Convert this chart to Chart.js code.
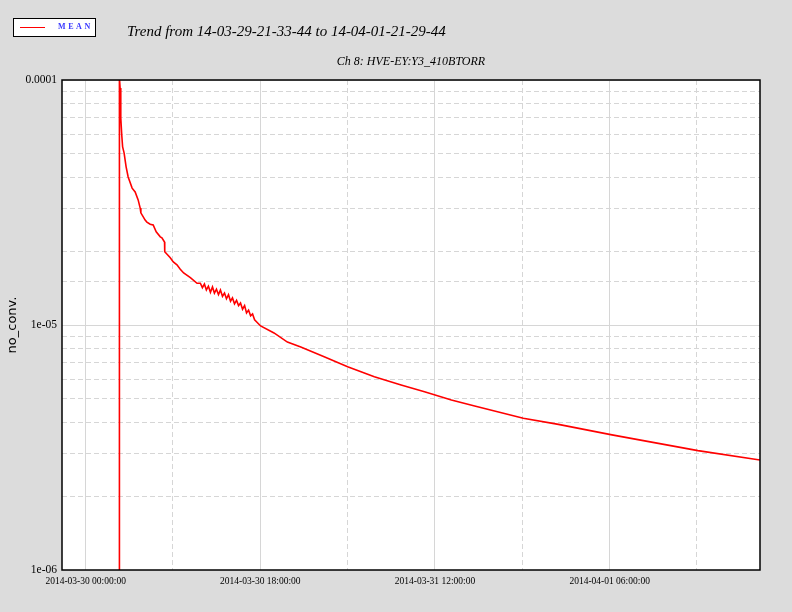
<!DOCTYPE html>
<html>
<head>
<meta charset="utf-8">
<script src="https://cdn.jsdelivr.net/npm/chart.js@4/dist/chart.umd.min.js"></script>
<style>
html,body{margin:0;padding:0;background:#dcdcdc;}
#wrap{position:relative;width:792px;height:612px;overflow:hidden;background:#dcdcdc;}
#c{position:absolute;left:0;top:0;}
#legend{position:absolute;left:13px;top:18px;width:81px;height:17px;border:1px solid #000;background:#fff;}
#legline{position:absolute;left:6px;top:8px;width:25px;height:0;border-top:1px solid #ff0000;}
#legtxt{position:absolute;left:44px;top:3px;font:bold 8px "Liberation Serif",serif;letter-spacing:2.6px;color:#3a3aff;line-height:10px;}
#title{position:absolute;left:127px;top:24px;font:italic 15px "Liberation Serif",serif;line-height:15px;color:#000;white-space:nowrap;}
#subtitle{position:absolute;left:211px;width:400px;text-align:center;top:55px;font:italic 12px "Liberation Serif",serif;line-height:12px;color:#000;white-space:nowrap;}
</style>
</head>
<body>
<div id="wrap">
<canvas id="c" width="792" height="612"></canvas>
<div id="legend"><div id="legline"></div><div id="legtxt">MEAN</div></div>
<div id="title">Trend from 14-03-29-21-33-44 to 14-04-01-21-29-44</div>
<div id="subtitle">Ch 8: HVE-EY:Y3_410BTORR</div>
</div>
<script>
// ---- data (hours since 2014-03-30 00:00:00, pressure values) ----
const seriesName = 'MEAN';
const yAxisTitle = 'no_conv.';
const startHours = -2.4378;   // 2014-03-29 21:33:44
const endHours = 69.4956;     // 2014-04-01 21:29:44
const timesH = [
  3.48, 3.48, 3.55, 3.62, 3.72, 3.81, 3.96, 4.17, 4.38, 4.79, 5.10, 5.41, 5.62, 5.69,
  6.13, 6.31, 6.65, 6.96, 7.27, 7.69, 7.86, 8.13, 8.15, 8.72, 9.03, 9.41, 9.75, 10.10,
  10.79, 11.48, 11.82, 12.03, 12.24, 12.44, 12.65, 12.86, 13.07, 13.27, 13.48, 13.69,
  13.89, 14.10, 14.31, 14.51, 14.72, 14.93, 15.13, 15.34, 15.55, 15.76, 15.96, 16.17,
  16.38, 16.58, 16.79, 17.00, 17.20, 17.41, 18.03, 19.41, 20.79, 22.17, 24.58, 27.00,
  29.75, 32.51, 34.92, 37.69, 40.09, 45.10, 48.72, 54.24, 63.10, 69.49
];
const values = [
  9.0e-7, 1.02e-4, 9.28e-5, 7.00e-5, 5.96e-5, 5.33e-5, 5.04e-5, 4.42e-5, 4.02e-5, 3.62e-5, 3.49e-5, 3.24e-5, 3.00e-5, 2.87e-5,
  2.68e-5, 2.63e-5, 2.58e-5, 2.56e-5, 2.40e-5, 2.29e-5, 2.27e-5, 2.18e-5, 1.99e-5, 1.88e-5, 1.81e-5, 1.76e-5, 1.69e-5, 1.63e-5,
  1.56e-5, 1.48e-5, 1.48e-5, 1.42e-5, 1.47e-5, 1.39e-5, 1.44e-5, 1.36e-5, 1.43e-5, 1.35e-5, 1.40e-5, 1.33e-5,
  1.39e-5, 1.31e-5, 1.35e-5, 1.28e-5, 1.33e-5, 1.25e-5, 1.29e-5, 1.22e-5, 1.26e-5, 1.20e-5, 1.23e-5, 1.16e-5,
  1.20e-5, 1.12e-5, 1.15e-5, 1.09e-5, 1.11e-5, 1.05e-5, 9.91e-6, 9.28e-6, 8.52e-6, 8.13e-6, 7.42e-6, 6.76e-6,
  6.15e-6, 5.69e-6, 5.34e-6, 4.94e-6, 4.67e-6, 4.16e-6, 3.93e-6, 3.56e-6, 3.07e-6, 2.81e-6
];
const xMajorHours = [0, 18, 36, 54];
const xMinorHours = [9, 27, 45, 63];
const xTickLabels = ['2014-03-30 00:00:00', '2014-03-30 18:00:00', '2014-03-31 12:00:00', '2014-04-01 06:00:00'];
const yMin = 1e-6, yMax = 1e-4;
const yTickLabels = {'-6': '1e-06', '-5': '1e-05', '-4': '0.0001'};

const points = timesH.map((t, i) => ({x: t, y: values[i]}));
const gridColor = '#d6d6d6';
const dashPat = [5, 3];

function isDecade(v){ const l = Math.log10(v); return Math.abs(l - Math.round(l)) < 1e-6; }

const framePlugin = {
  id: 'frame',
  beforeDraw(chart){
    const a = chart.chartArea, ctx = chart.ctx;
    ctx.save();
    ctx.fillStyle = '#ffffff';
    ctx.fillRect(a.left, a.top, a.right - a.left, a.bottom - a.top);
    ctx.restore();
  },
  afterDatasetsDraw(chart){
    const a = chart.chartArea, ctx = chart.ctx;
    ctx.save();
    ctx.strokeStyle = '#000';
    ctx.lineWidth = 1.5;
    ctx.strokeRect(a.left, a.top, a.right - a.left, a.bottom - a.top);
    ctx.restore();
  }
};

new Chart(document.getElementById('c'), {
  type: 'line',
  data: {
    datasets: [{
      label: seriesName,
      data: points,
      borderColor: '#ff0000',
      borderWidth: 1.6,
      pointRadius: 0,
      tension: 0,
      fill: false
    }]
  },
  options: {
    responsive: false,
    animation: false,
    devicePixelRatio: 1,
    layout: {padding: {top: 80, right: 32, left: 0, bottom: 0}},
    plugins: {legend: {display: false}, tooltip: {enabled: false}},
    scales: {
      x: {
        type: 'linear',
        min: startHours,
        max: endHours,
        afterBuildTicks(scale){
          const all = xMajorHours.map(v => ({value: v, major: true}))
            .concat(xMinorHours.map(v => ({value: v, major: false})));
          all.sort((a, b) => a.value - b.value);
          scale.ticks = all;
        },
        afterFit(scale){ scale.height = 42; },
        ticks: {
          autoSkip: false, maxRotation: 0, minRotation: 0, padding: 6,
          color: '#000',
          font: {family: '"Liberation Serif", serif', size: 9.5},
          callback(value){ const i = xMajorHours.indexOf(value); return i >= 0 ? xTickLabels[i] : ''; }
        },
        grid: {
          drawTicks: false,
          color: gridColor,
          lineWidth: 1
        },
        border: {
          display: false,
          dash(ctx){ if (ctx.type !== 'tick' || !ctx.tick) return []; return xMajorHours.indexOf(ctx.tick.value) >= 0 ? [] : dashPat; }
        }
      },
      y: {
        type: 'logarithmic',
        min: yMin,
        max: yMax,
        afterFit(scale){ scale.width = 62; },
        title: {
          display: true, text: yAxisTitle, color: '#000',
          font: {family: '"DejaVu Sans", sans-serif', size: 13},
          padding: {top: 5, bottom: 0}
        },
        ticks: {
          autoSkip: false, padding: 5, color: '#000',
          font: {family: '"Liberation Serif", serif', size: 11.5},
          callback(value){ if (!isDecade(value)) return ''; return yTickLabels[String(Math.round(Math.log10(value)))] || ''; }
        },
        grid: {
          drawTicks: false,
          color: gridColor,
          lineWidth: 1
        },
        border: {
          display: false,
          dash(ctx){ if (ctx.type !== 'tick' || !ctx.tick) return []; return isDecade(ctx.tick.value) ? [] : dashPat; }
        }
      }
    }
  },
  plugins: [framePlugin]
});
</script>
</body>
</html>
